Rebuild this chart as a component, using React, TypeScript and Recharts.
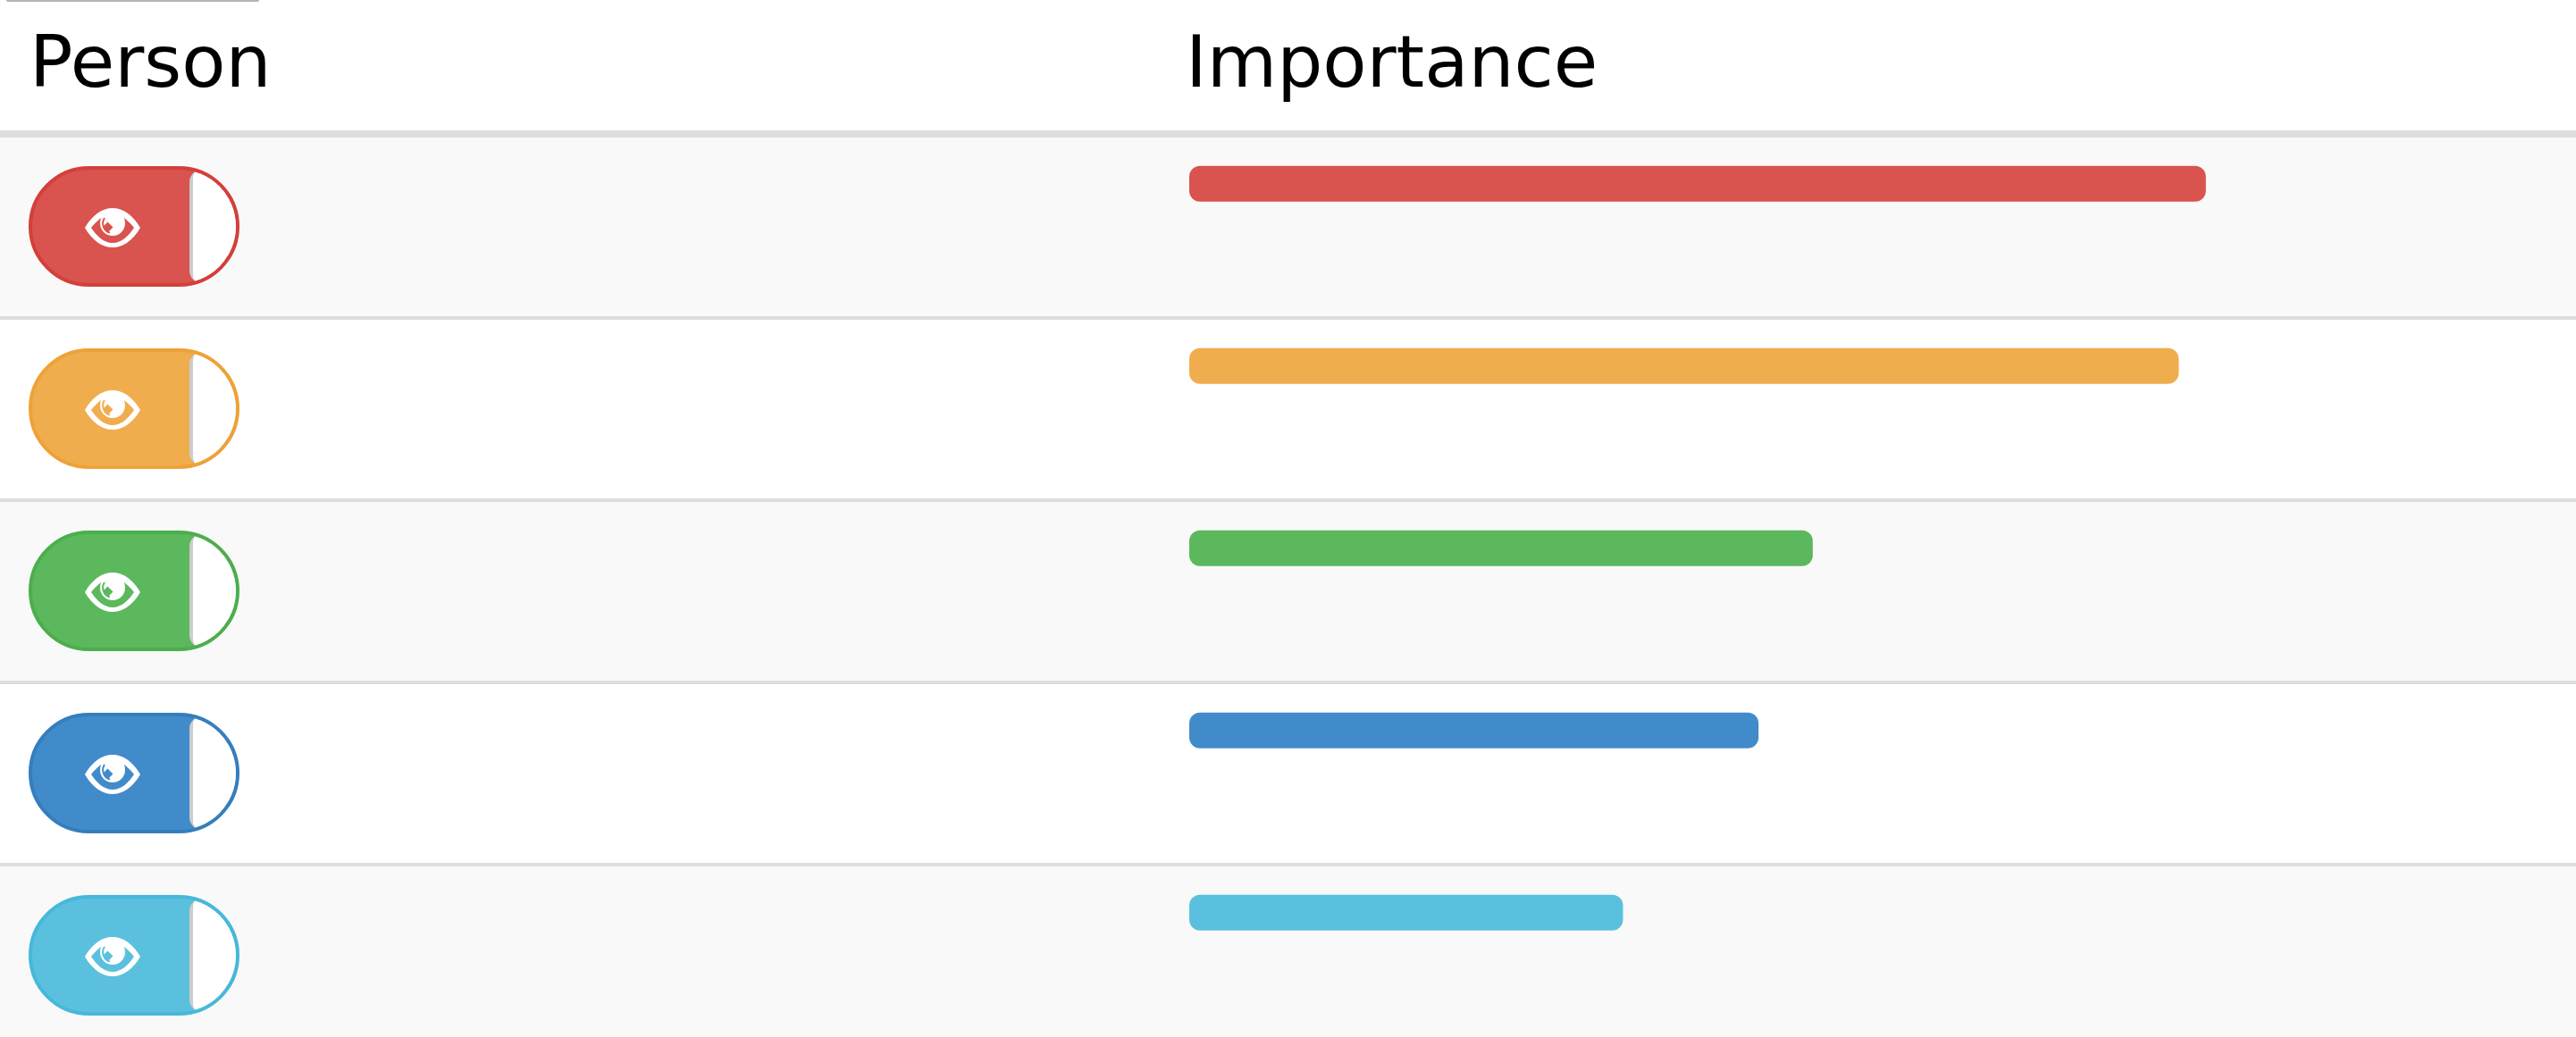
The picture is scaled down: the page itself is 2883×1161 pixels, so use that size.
import { Bar, BarChart, Cell, Rectangle, XAxis, YAxis } from "recharts";

const rowIds = ["p1", "p2", "p3", "p4", "p5"];
const importance = [75, 73, 46, 42, 32];
const barColors = ["#d9534f", "#f0ad4e", "#5cb85c", "#428bca", "#5bc0de"];
const borderColors = ["#d43f3a", "#eea236", "#4cae4c", "#357ebd", "#46b8da"];
const headers = ["Person", "Importance"];

const data = rowIds.map((id, i) => ({ id, importance: importance[i] }));

const ROW_HEIGHT = 204;
const COL_LEFT = 1331;
const FONT = '"DejaVu Sans", sans-serif';

const EYE_OUTER =
  "M-31,0 C-23,-14 -12,-22 0,-22 C12,-22 23,-14 31,0 C23,14 12,22 0,22 C-12,22 -23,14 -31,0 Z " +
  "M-24,0 C-18,9 -10,17 0,17 C10,17 18,9 24,0 C21,-4 17,-8 13,-11 L-13,-11 C-17,-8 -21,-4 -24,0 Z";

// the eye toggle in the first column
function RowTick({ y, payload, index }: any) {
  const i = index ?? rowIds.indexOf(payload.value);
  const top = y - ROW_HEIGHT / 2;
  const pillTop = top + 36;
  const clipId = `pill-${i}`;
  return (
    <g>
      <clipPath id={clipId}>
        <rect x={36} y={pillTop} width={228} height={127} rx={63.5} />
      </clipPath>
      <rect x={34} y={pillTop - 2} width={232} height={131} rx={65.5} fill={barColors[i]} stroke={borderColors[i]} strokeWidth={4} />
      <g clipPath={`url(#${clipId})`}>
        <rect x={212} y={pillTop} width={80} height={127} rx={14} fill="#cccccc" />
        <rect x={216} y={pillTop - 4} width={80} height={135} rx={14} fill="#ffffff" />
      </g>
      <g transform={`translate(126 ${top + 101})`}>
        <path d={EYE_OUTER} fill="#ffffff" fillRule="evenodd" />
        <circle cx={0} cy={-5} r={14} fill="#ffffff" />
        <path d="M-9,-11 A11,11 0 0 0 -3,5.6" fill="none" stroke={barColors[i]} strokeWidth={2} />
        <path d="M-5.5,-6.5 L0.5,-0.5 L-5,5 L-11,-1 Z" fill={barColors[i]} />
      </g>
    </g>
  );
}

// bars sit at the top of each row, not in the middle of the band
function TopAlignedBar(props: any) {
  return <Rectangle {...props} y={props.y - 50.3} radius={12} />;
}

export default function App() {
  return (
    <div style={{ position: "absolute", left: 0, top: 0, width: 2883, height: 1161, overflow: "hidden", background: "#fff", fontFamily: FONT }}>
      <div style={{ position: "absolute", left: 7, top: 0, width: 283, height: 2, background: "#b4b4b4", borderRadius: "0 0 4px 4px" }} />
      <div style={{ position: "absolute", left: 33, top: 23, fontSize: 80.5, lineHeight: "93px", color: "#000" }}>{headers[0]}</div>
      <div style={{ position: "absolute", left: 1327, top: 23, fontSize: 80.5, lineHeight: "93px", color: "#000" }}>{headers[1]}</div>
      <div style={{ position: "absolute", left: 0, top: 146, width: 2883, height: 8, background: "#dddddd" }} />
      {rowIds.map((id, i) => (
        <div
          key={id}
          style={{
            position: "absolute",
            left: 0,
            top: 154 + i * ROW_HEIGHT,
            width: 2883,
            height: ROW_HEIGHT - 4,
            background: i % 2 === 0 ? "#f9f9f9" : "#ffffff",
            borderBottom: "4px solid #dddddd",
          }}
        />
      ))}
      <div style={{ position: "absolute", left: 0, top: 154 }}>
        <BarChart
          width={2883}
          height={ROW_HEIGHT * rowIds.length}
          data={data}
          layout="vertical"
          margin={{ top: 0, right: 35, bottom: 0, left: 0 }}
        >
          <XAxis type="number" domain={[0, 100]} hide />
          <YAxis
            type="category"
            dataKey="id"
            width={COL_LEFT}
            axisLine={false}
            tickLine={false}
            tick={<RowTick />}
            interval={0}
          />
          <Bar dataKey="importance" barSize={40} shape={<TopAlignedBar />} isAnimationActive={false}>
            {data.map((d, i) => (
              <Cell key={d.id} fill={barColors[i]} />
            ))}
          </Bar>
        </BarChart>
      </div>
    </div>
  );
}
